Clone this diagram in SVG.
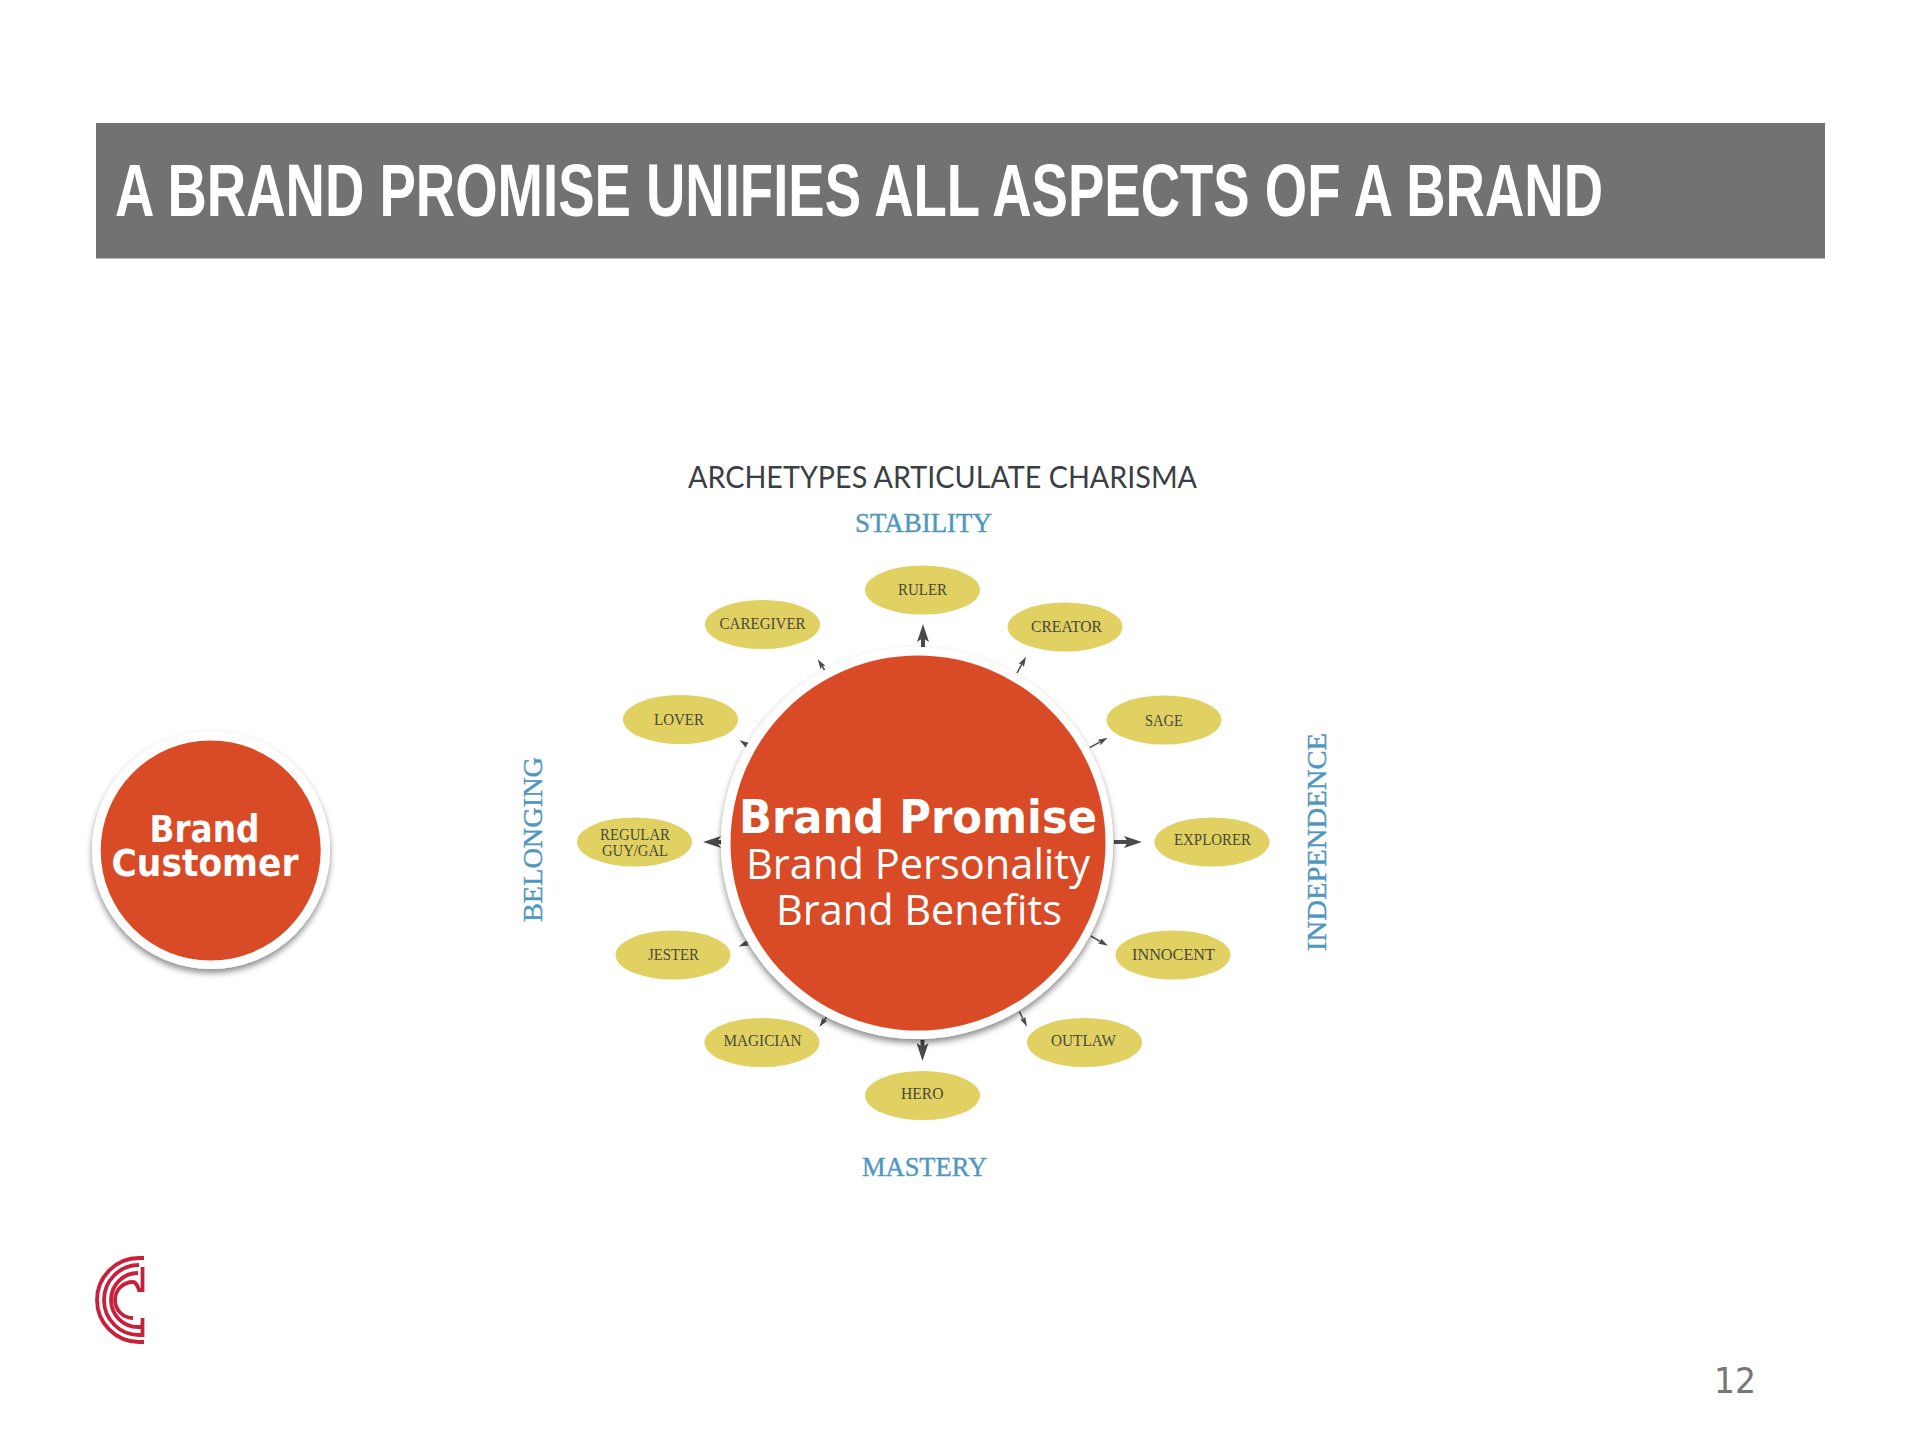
<svg xmlns="http://www.w3.org/2000/svg" width="1920" height="1440" viewBox="0 0 1920 1440">
<style>
.arch{font-family:"Liberation Serif",serif;font-size:17.5px;fill:#4b4a38}
.el{fill:#e1d062}
.axis{font-family:"Liberation Serif",serif;font-size:28px;fill:#4f97bf;stroke:#4f97bf;stroke-width:.4}
.wh{font-family:"Open Sans","Noto Sans",sans-serif;fill:#fff}
.dj{font-family:"DejaVu Sans",sans-serif;fill:#fff;font-weight:700}
.big{fill:none;stroke:#4a4a4a;stroke-width:4}
.small{fill:none;stroke:#4a4a4a;stroke-width:1.5}
.logo{fill:none;stroke:#c8203a;stroke-width:3.8}
</style>
<defs>
<filter id="sh" x="-15%" y="-15%" width="130%" height="135%"><feDropShadow dx="0" dy="4" stdDeviation="3" flood-color="#000" flood-opacity="0.45"/></filter>
<marker id="hb" markerUnits="userSpaceOnUse" viewBox="0 0 18 12" markerWidth="18" markerHeight="12" refX="4" refY="6" orient="auto"><path d="M0,0 L18,6 L0,12 L4,6 z" fill="#4a4a4a"/></marker>
<marker id="hs" markerUnits="userSpaceOnUse" viewBox="0 0 10 6" markerWidth="10" markerHeight="6" refX="2" refY="3" orient="auto"><path d="M0,0 L10,3 L0,6 L2,3 z" fill="#4a4a4a"/></marker>
</defs>
<rect width="1920" height="1440" fill="#fff"/>
<g id="title">
<rect x="96" y="123" width="1729" height="135.500" fill="#727272"/>
<text x="115" y="215.500" font-family="'Liberation Sans Narrow','Liberation Sans',sans-serif" font-weight="700" font-size="75" fill="#fff" textLength="1488" lengthAdjust="spacingAndGlyphs">A BRAND PROMISE UNIFIES ALL ASPECTS OF A BRAND</text>
</g>
<text id="heading" x="688" y="488" font-family="Lato,sans-serif" font-weight="400" font-size="31" fill="#3a3f45" textLength="509" lengthAdjust="spacingAndGlyphs">ARCHETYPES ARTICULATE CHARISMA</text>
<g id="axes">
<text class="axis" x="855" y="531.500" textLength="137" lengthAdjust="spacingAndGlyphs">STABILITY</text>
<text class="axis" x="862" y="1176" textLength="125" lengthAdjust="spacingAndGlyphs">MASTERY</text>
<text class="axis" transform="translate(541.500 922) rotate(-90)" textLength="165" lengthAdjust="spacingAndGlyphs">BELONGING</text>
<text class="axis" transform="translate(1325.500 951) rotate(-90)" textLength="218" lengthAdjust="spacingAndGlyphs">INDEPENDENCE</text>
</g>
<g id="connectors">
<path class="big" marker-end="url(#hb)" d="M923,647 L923,638"/>
<path class="big" marker-end="url(#hb)" d="M721,842 L717,842"/>
<path class="big" marker-end="url(#hb)" d="M1114,842 L1128,842"/>
<path class="big" marker-end="url(#hb)" d="M922.500,1040 L922.500,1047"/>
<path class="small" marker-end="url(#hs)" d="M824.500,670 L822,666"/>
<path class="small" marker-end="url(#hs)" d="M1017,673 L1022.200,663.700"/>
<path class="small" marker-end="url(#hs)" d="M1089.700,747.700 L1100.600,741.600"/>
<path class="small" marker-end="url(#hs)" d="M748,745.700 L746.300,744.600"/>
<path class="small" marker-end="url(#hs)" d="M750,941.700 L746,943.400"/>
<path class="small" marker-end="url(#hs)" d="M1090.800,936 L1101,941.800"/>
<path class="small" marker-end="url(#hs)" d="M826.500,1017 L824,1020.500"/>
<path class="small" marker-end="url(#hs)" d="M1019.400,1011.700 L1023.400,1019.600"/>
</g>
<g id="brand-promise">
<circle cx="917" cy="843" r="196" fill="#fff" filter="url(#sh)"/>
<circle cx="918" cy="843" r="187.500" fill="#d94a26"/>
<text class="dj" x="739" y="833" font-size="47" textLength="358" lengthAdjust="spacingAndGlyphs">Brand Promise</text>
<text class="wh" x="746" y="879" font-size="42" font-weight="500" textLength="344" lengthAdjust="spacingAndGlyphs">Brand Personality</text>
<text class="wh" x="776" y="925" font-size="42" font-weight="500" textLength="286" lengthAdjust="spacingAndGlyphs">Brand Benefits</text>
</g>
<g id="brand-customer">
<circle cx="211" cy="850" r="119" fill="#fff" filter="url(#sh)"/>
<circle cx="210.700" cy="850.500" r="110" fill="#d94a26"/>
<text class="dj" x="149.500" y="841.500" font-size="37" textLength="110" lengthAdjust="spacingAndGlyphs">Brand</text>
<text class="dj" x="111.500" y="876" font-size="37" textLength="187" lengthAdjust="spacingAndGlyphs">Customer</text>
</g>
<g id="ruler"><ellipse class="el" cx="922.500" cy="590" rx="57.500" ry="24.500"/><text class="arch" x="898" y="594.500" textLength="49" lengthAdjust="spacingAndGlyphs">RULER</text></g>
<g id="caregiver"><ellipse class="el" cx="762.500" cy="624.500" rx="57.500" ry="24.500"/><text class="arch" x="719.600" y="628.500" textLength="86" lengthAdjust="spacingAndGlyphs">CAREGIVER</text></g>
<g id="creator"><ellipse class="el" cx="1065" cy="627" rx="57.500" ry="24.500"/><text class="arch" x="1031" y="631.500" textLength="71" lengthAdjust="spacingAndGlyphs">CREATOR</text></g>
<g id="lover"><ellipse class="el" cx="680.500" cy="719.500" rx="57.500" ry="24.500"/><text class="arch" x="654" y="724.500" textLength="50" lengthAdjust="spacingAndGlyphs">LOVER</text></g>
<g id="sage"><ellipse class="el" cx="1164" cy="720" rx="57.500" ry="24.500"/><text class="arch" x="1145" y="725.500" textLength="38" lengthAdjust="spacingAndGlyphs">SAGE</text></g>
<g id="regular-guy-gal"><ellipse class="el" cx="634.500" cy="842" rx="57.500" ry="24.500"/><text class="arch" x="600" y="840.200" textLength="70" lengthAdjust="spacingAndGlyphs">REGULAR</text><text class="arch" x="602" y="856.200" textLength="66" lengthAdjust="spacingAndGlyphs">GUY/GAL</text></g>
<g id="explorer"><ellipse class="el" cx="1212" cy="842" rx="57.500" ry="24.500"/><text class="arch" x="1174" y="845.200" textLength="77" lengthAdjust="spacingAndGlyphs">EXPLORER</text></g>
<g id="jester"><ellipse class="el" cx="673" cy="955" rx="57.500" ry="24.500"/><text class="arch" x="648" y="959.500" textLength="51" lengthAdjust="spacingAndGlyphs">JESTER</text></g>
<g id="innocent"><ellipse class="el" cx="1173" cy="955" rx="57.500" ry="24.500"/><text class="arch" x="1132" y="959.500" textLength="83" lengthAdjust="spacingAndGlyphs">INNOCENT</text></g>
<g id="magician"><ellipse class="el" cx="762" cy="1042.500" rx="57.500" ry="24.500"/><text class="arch" x="723.500" y="1046.200" textLength="78" lengthAdjust="spacingAndGlyphs">MAGICIAN</text></g>
<g id="outlaw"><ellipse class="el" cx="1084.500" cy="1042.500" rx="57.500" ry="24.500"/><text class="arch" x="1051" y="1046.200" textLength="65" lengthAdjust="spacingAndGlyphs">OUTLAW</text></g>
<g id="hero"><ellipse class="el" cx="922.500" cy="1095.500" rx="57.500" ry="24.500"/><text class="arch" x="901" y="1098.700" textLength="42.500" lengthAdjust="spacingAndGlyphs">HERO</text></g>
<g id="logo">
<path class="logo" d="M144,1258 L139,1258 A42,42 0 0 0 139,1342 L144,1342"/>
<path class="logo" d="M139,1265 A35,35 0 0 0 139,1335 L142.500,1335 L142.500,1318"/>
<path class="logo" d="M138,1273 A27,27 0 0 0 138,1327 L141,1327"/>
<path class="logo" d="M142.500,1267 L142.500,1290 L139,1290 C137,1284 135,1282 133,1282 A18,18 0 0 0 133,1318"/>
</g>
<text id="page" x="1714" y="1393" font-family="'DejaVu Sans',sans-serif" font-size="36" fill="#777" textLength="42" lengthAdjust="spacingAndGlyphs">12</text>
</svg>
